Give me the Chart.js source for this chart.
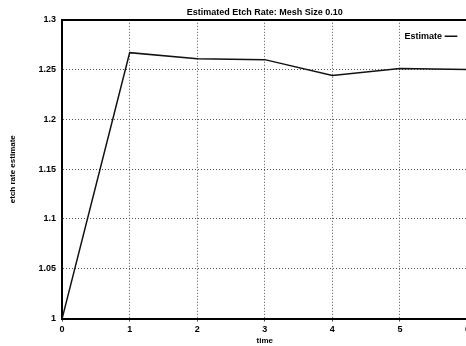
<!DOCTYPE html>
<html>
<head>
<meta charset="utf-8">
<script src="https://cdn.jsdelivr.net/npm/chart.js@4"></script>
<style>
  html, body { margin: 0; padding: 0; background: #fff; overflow: hidden; }
  #wrap { width: 473px; height: 346px; }
</style>
</head>
<body>
<div id="wrap"><canvas id="mainPlot" width="473" height="346"></canvas></div>
<script>
// chart data
const timeLabels = ["0", "1", "2", "3", "4", "5", "6"];
const estimateValues = [1.0, 1.267, 1.261, 1.26, 1.244, 1.251, 1.25];
const yTickValues = [1, 1.05, 1.1, 1.15, 1.2, 1.25, 1.3];
const yTickLabels = ["1", "1.05", "1.1", "1.15", "1.2", "1.25", "1.3"];

const fontFamily = "'Liberation Sans', Arial, sans-serif";
Chart.defaults.color = "#000";

// move the legend into the top right corner of the plot
const legendCorner = {
  id: "legendCorner",
  afterLayout(chart) {
    const legend = chart.legend;
    const area = chart.chartArea;
    if (!legend) return;
    const w = legend.width;
    const h = legend.height;
    legend.left = area.right - w - 8;
    legend.right = legend.left + w;
    legend.top = area.top + 8;
    legend.bottom = legend.top + h;
  },
};

var mainChart = new Chart(document.getElementById("mainPlot"), {
  type: "line",
  data: {
    labels: timeLabels,
    datasets: [
      {
        label: "Estimate",
        data: estimateValues,
        borderColor: "#111",
        backgroundColor: "#111",
        borderWidth: 1.5,
        tension: 0,
        fill: false,
        pointRadius: 0,
      },
    ],
  },
  options: {
    responsive: false,
    animation: false,
    layout: {
      padding: { top: 7, left: 8, right: 0, bottom: 0 },
    },
    scales: {
      x: {
        type: "category",
        offset: false,
        border: { color: "#000", width: 2, dash: [1, 2] },
        grid: {
          color: "#555",
          lineWidth: 1,
          drawTicks: true,
          tickLength: 3,
        },
        ticks: {
          padding: 3,
          maxRotation: 0,
          font: { family: fontFamily, size: 9, weight: "bold" },
        },
        title: {
          display: true,
          text: "time",
          padding: { top: -2, bottom: 0 },
          font: { family: fontFamily, size: 8, weight: "bold" },
        },
      },
      xTop: {
        type: "category",
        position: "top",
        offset: false,
        border: { color: "#000", width: 2 },
        grid: { display: false, drawTicks: false },
        ticks: { display: false },
      },
      y: {
        min: 1,
        max: 1.3,
        afterBuildTicks: (scale) => {
          scale.ticks = yTickValues.map((v) => ({ value: v }));
        },
        border: { color: "#000", width: 2, dash: [1, 2] },
        grid: {
          color: "#555",
          lineWidth: 1,
          drawTicks: false,
        },
        ticks: {
          padding: 6,
          font: { family: fontFamily, size: 9, weight: "bold" },
          callback: function (val) {
            const i = yTickValues.findIndex((v) => Math.abs(v - val) < 1e-9);
            return i >= 0 ? yTickLabels[i] : "";
          },
        },
        title: {
          display: true,
          text: "etch rate estimate",
          padding: { top: 0, bottom: 15 },
          font: { family: fontFamily, size: 8, weight: "bold" },
        },
      },
    },
    plugins: {
      title: {
        display: true,
        text: "Estimated Etch Rate: Mesh Size 0.10",
        fullSize: false,
        padding: { top: 0, bottom: 2 },
        font: { family: fontFamily, size: 9, weight: "bold" },
      },
      legend: {
        position: "chartArea",
        align: "start",
        rtl: true,
        textDirection: "ltr",
        labels: {
          usePointStyle: true,
          pointStyle: "line",
          boxWidth: 16,
          padding: 4,
          font: { family: fontFamily, size: 9, weight: "bold" },
        },
      },
      tooltip: { enabled: false },
    },
  },
  plugins: [legendCorner],
});
</script>
</body>
</html>
